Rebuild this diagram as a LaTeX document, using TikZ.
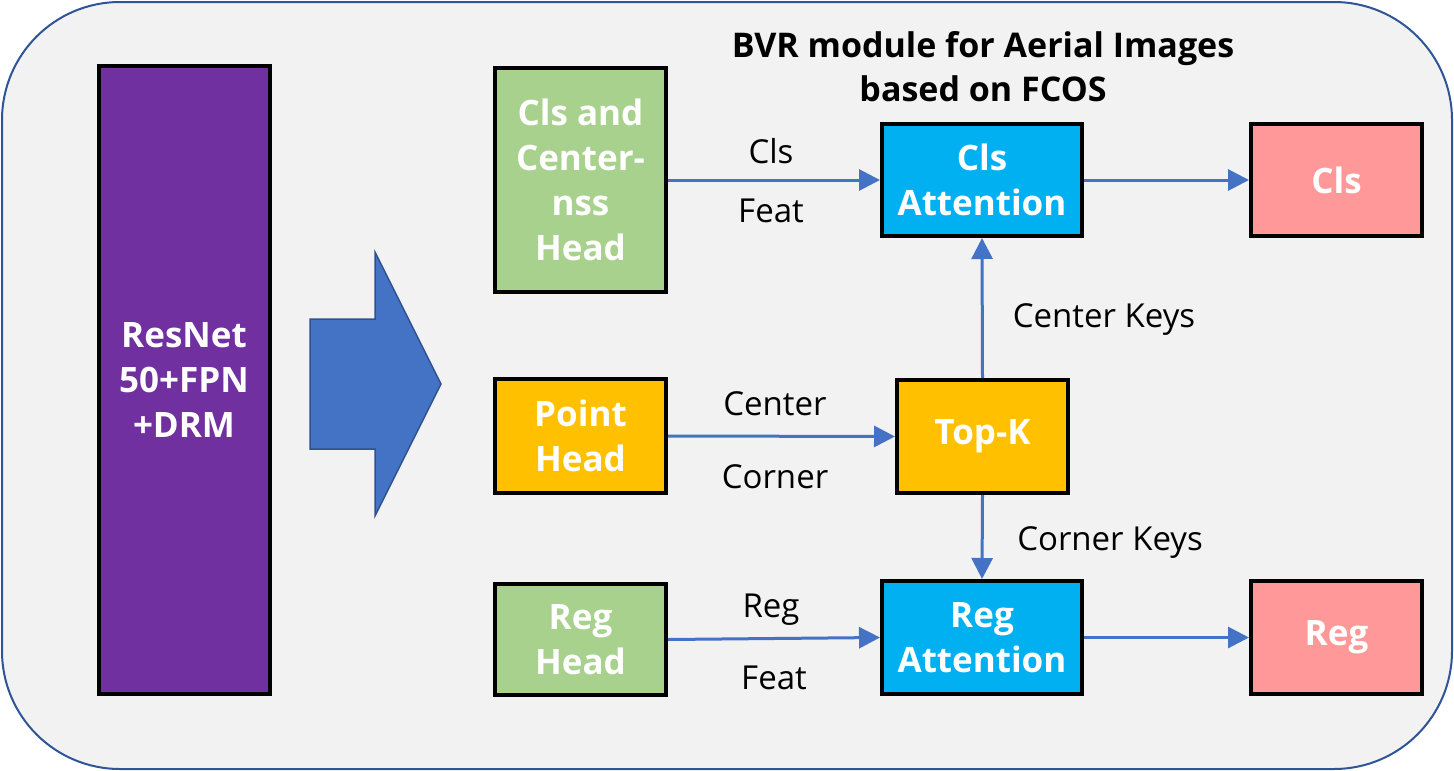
\documentclass[tikz,border=0pt]{standalone}
\usepackage{fontspec}
\setmainfont{Open Sans}
\usetikzlibrary{arrows.meta}

\definecolor{panelgray}{RGB}{242,242,242}
\definecolor{paneledge}{RGB}{47,85,151}
\definecolor{netpurple}{RGB}{112,48,160}
\definecolor{arrowblue}{RGB}{68,114,196}
\definecolor{arrowedge}{RGB}{47,82,143}
\definecolor{headgreen}{RGB}{169,209,142}
\definecolor{pointgold}{RGB}{255,192,0}
\definecolor{attcyan}{RGB}{0,176,240}
\definecolor{outpink}{RGB}{255,153,153}

\tikzset{
  every picture/.style={line width=1pt},
  blockbox/.style={draw=black, line width=4pt, text=white, align=center,
    font=\fontsize{35}{45}\selectfont\bfseries, inner sep=0pt},
  flow/.style={draw=arrowblue, line width=3pt, -{Triangle[length=21pt,width=21pt]}},
  edgetext/.style={font=\fontsize{33}{40}\selectfont, text=black}
}

\begin{document}
\begin{tikzpicture}[x=1pt,y=1pt,yscale=-1]
\useasboundingbox (0,0) rectangle (1454,771);

%Rounded panel
\draw [fill=panelgray, draw=paneledge, line width=2pt, rounded corners=118pt] (2,2) rectangle (1452,769);

%Backbone
\node [blockbox, fill=netpurple, minimum width=171pt, minimum height=628pt] (backbone) at (184,380) {ResNet\\50+FPN\\+DRM};

%Big arrow
\draw [fill=arrowblue, draw=arrowedge, line width=1.5pt] (310,319) -- (375,319) -- (375,252) -- (441,384) -- (375,516) -- (375,449) -- (310,449) -- cycle;

%Heads
\node [blockbox, fill=headgreen, minimum width=171pt, minimum height=224pt] (clshead) at (580.5,180) {Cls and\\Center-\\nss\\Head};
\node [blockbox, fill=pointgold, minimum width=171pt, minimum height=114pt] (pointhead) at (580.5,436) {Point\\Head};
\node [blockbox, fill=headgreen, minimum width=171pt, minimum height=111pt] (reghead) at (580.5,639.5) {Reg\\Head};

%Attention and Top-K
\node [blockbox, fill=attcyan, minimum width=200pt, minimum height=112pt] (clsatt) at (982,180) {Cls\\Attention};
\node [blockbox, fill=pointgold, minimum width=171pt, minimum height=113pt] (topk) at (982.5,436.5) {Top-K};
\node [blockbox, fill=attcyan, minimum width=200pt, minimum height=113pt] (regatt) at (982,637.5) {Reg\\Attention};

%Outputs
\node [blockbox, fill=outpink, minimum width=171pt, minimum height=112pt] (clsout) at (1336.5,180) {Cls};
\node [blockbox, fill=outpink, minimum width=171pt, minimum height=113pt] (regout) at (1336.5,637.5) {Reg};

%Title
\node [align=center, font=\fontsize{34}{44}\selectfont\bfseries] (title) at (983,67) {BVR module for Aerial Images\\based on FCOS};

%Connectors
\draw [flow] (clshead.east) -- (clsatt.west);
\draw [flow] (pointhead.east) -- (topk.west);
\draw [flow] (reghead.east) -- (regatt.west);
\draw [flow] (topk.north) -- (clsatt.south);
\draw [flow] (topk.south) -- (regatt.north);
\draw [flow] (clsatt.east) -- (clsout.west);
\draw [flow] (regatt.east) -- (regout.west);

%Edge labels
\node [edgetext] (lblcls) at (771,151) {Cls};
\node [edgetext] (lblfeat) at (771,211) {Feat};
\node [edgetext] (lblcenter) at (775,404) {Center};
\node [edgetext] (lblcorner) at (775,477) {Corner};
\node [edgetext] (lblreg) at (771,610) {Reg};
\node [edgetext] (lblfeatb) at (774,678) {Feat};
\node [edgetext] (lblckeys) at (1104,320) {Center Keys};
\node [edgetext] (lblkkeys) at (1110,543) {Corner Keys};

\end{tikzpicture}
\end{document}
